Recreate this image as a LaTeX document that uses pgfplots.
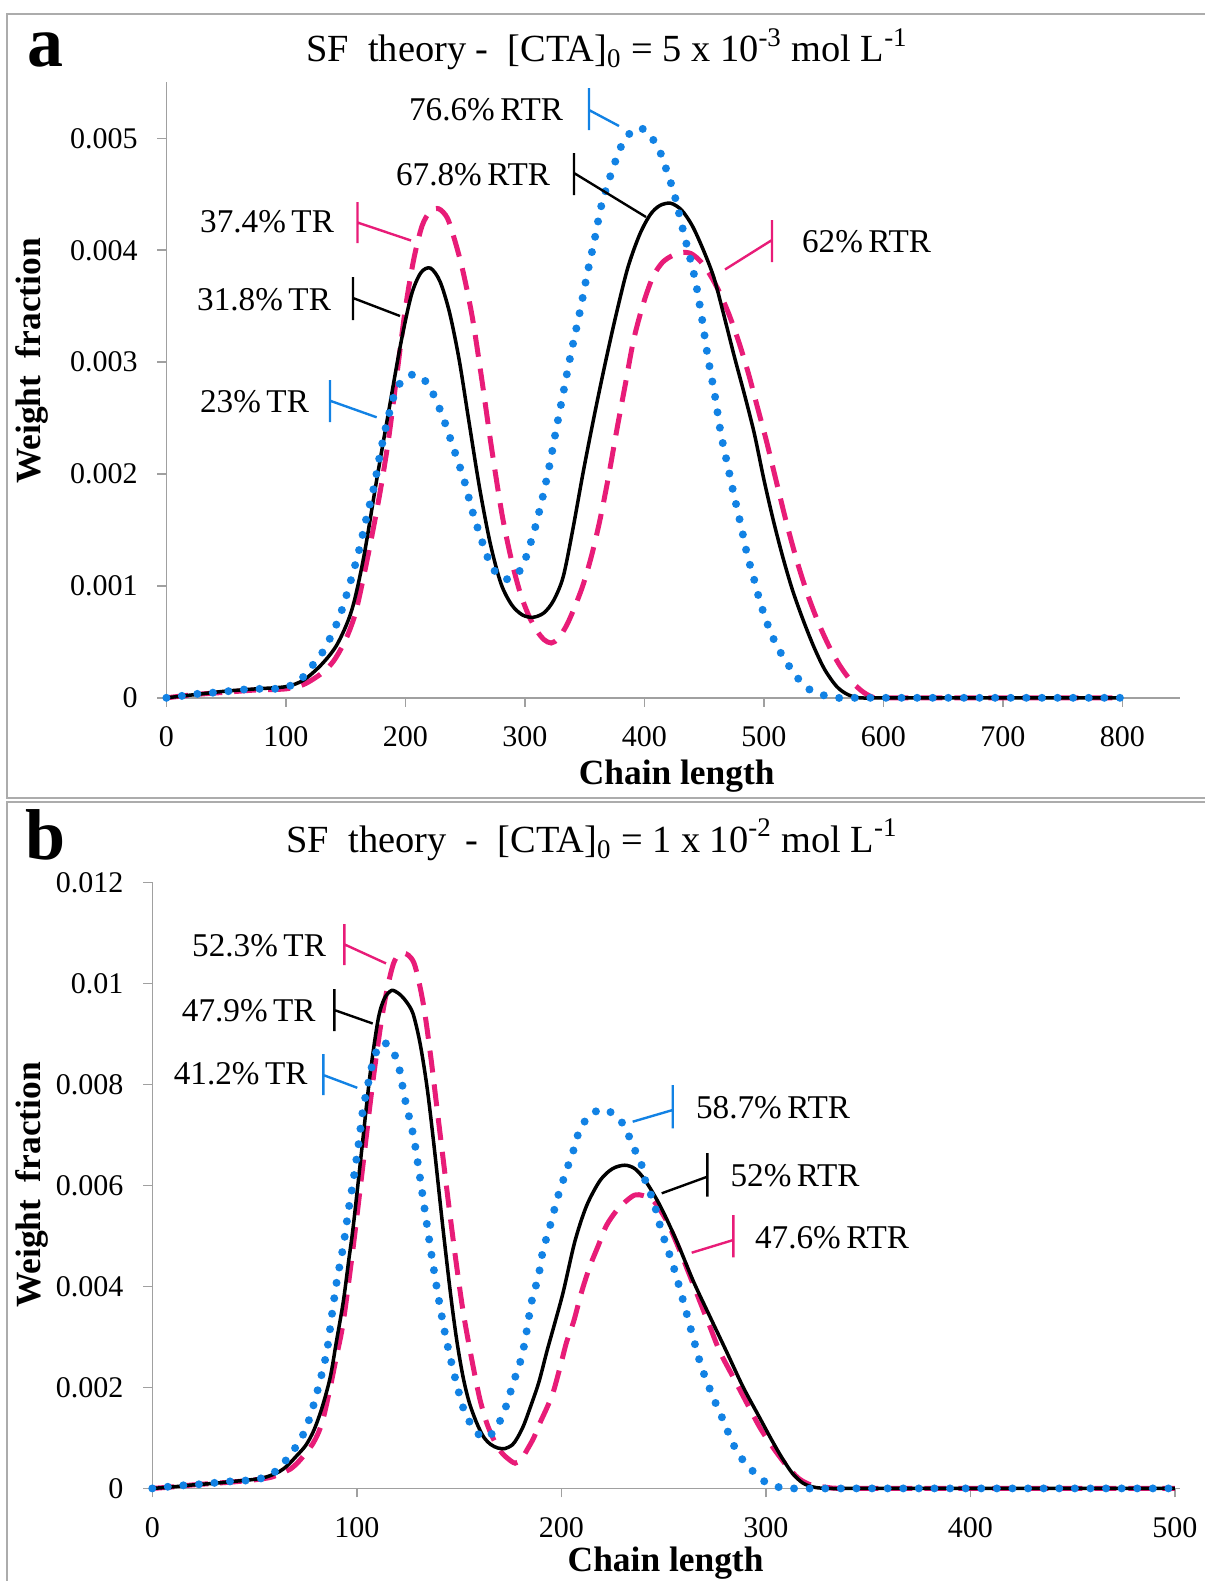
\documentclass[border=0pt]{standalone}
\usepackage{pgfplots}
\pgfplotsset{compat=1.18}
\usepackage{fontspec}
\setmainfont{Liberation Serif}

\definecolor{rtrblue}{RGB}{18,130,228}
\definecolor{rtrpink}{RGB}{232,28,120}
\definecolor{axisgray}{RGB}{160,160,160}
\definecolor{framegray}{RGB}{172,172,172}

\newcommand{\ticksize}{\fontsize{15}{18}\selectfont}
\newcommand{\titlesize}{\fontsize{19.2}{22}\selectfont}
\newcommand{\labelsize}{\fontsize{17.7}{20}\selectfont\bfseries}
\newcommand{\notesize}{\fontsize{16.6}{19}\selectfont}

\pgfplotsset{
  sfaxis/.style={
    scale only axis, clip=false,
    axis lines*=left,
    axis line style={draw=axisgray, line width=0.75pt, -},
    tick align=outside,
    major tick length=4.5pt,
    major tick style={draw=axisgray, line width=0.75pt},
    tick label style={font=\ticksize, text=black},
    xticklabel style={anchor=north, inner sep=0pt},
    yticklabel style={anchor=east, inner sep=0pt},
    xticklabel shift=9.9pt,
    yticklabel shift=9.7pt,
    scaled ticks=false,
    xmin=0, ymin=0,
  },
  pinkline/.style={rtrpink, line width=2.5pt, dash pattern=on 11pt off 6pt, smooth},
  blackline/.style={black, line width=1.75pt, smooth},
  blueline/.style={rtrblue, line width=4pt, line cap=round, dash pattern=on 0pt off 7.8pt, smooth},
}

\begin{document}
\begin{tikzpicture}
\path[use as bounding box] (0,0) rectangle (602.5pt,-790.5pt);

% ---------- panel a: [CTA]0 = 5e-3 mol/L ----------
\begin{axis}[sfaxis,
  at={(83.2pt,-348.9pt)}, anchor=south west,
  width=506.7pt, height=307.7pt,
  xmax=848, ymax=0.0055,
  xtick={0,100,200,300,400,500,600,700,800},
  xticklabels={0,100,200,300,400,500,600,700,800},
  ytick={0,0.001,0.002,0.003,0.004,0.005},
  yticklabels={0,0.001,0.002,0.003,0.004,0.005},
]
\addplot[pinkline] table {
0 0
25 0.00003
50 0.00005
75 0.00007
100 0.00008
115 0.00012
130 0.00022
140 0.00033
150 0.00052
158 0.00075
165 0.00108
172 0.00145
179 0.00185
186 0.00232
193 0.0029
200 0.00348
207 0.00392
214 0.00422
221 0.00435
228 0.00437
235 0.00429
241 0.0041
248 0.00382
256 0.0034
264 0.00284
272 0.00224
281 0.00163
289 0.00122
296 0.00094
303 0.00074
310 0.0006
316 0.00052
322 0.00049
328 0.00053
335 0.00065
342 0.00082
349 0.00102
356 0.00128
363 0.0016
370 0.00198
377 0.0024
384 0.0028
391 0.0032
399 0.00352
407 0.00376
415 0.00389
423 0.00395
431 0.00398
439 0.00397
447 0.0039
455 0.00378
463 0.00362
471 0.00342
479 0.00318
487 0.0029
494 0.00262
502 0.0023
510 0.00195
519 0.00156
528 0.00121
537 0.00091
546 0.00066
555 0.00045
564 0.00028
573 0.00015
582 0.00006
590 0.00001
598 0
650 0
700 0
750 0
800 0
};
\addplot[blackline] table {
0 0
25 0.00003
50 0.00006
75 0.00008
100 0.0001
115 0.00016
130 0.0003
143 0.00048
155 0.00078
165 0.00125
176 0.00195
186 0.00256
196 0.00316
205 0.0036
213 0.0038
221 0.00384
229 0.00372
237 0.00344
245 0.00302
253 0.00248
262 0.00188
271 0.00138
280 0.00102
289 0.00083
298 0.00074
307 0.00072
316 0.00076
324 0.00087
332 0.00108
340 0.0015
349 0.00203
358 0.00252
367 0.00298
376 0.00341
386 0.00384
396 0.00414
405 0.00432
413 0.0044
422 0.00442
431 0.00436
440 0.00422
449 0.00401
458 0.00376
466 0.00344
475 0.00306
484 0.0027
492 0.00236
500 0.00195
508 0.00158
516 0.00125
524 0.00096
533 0.00069
542 0.00045
551 0.00025
561 0.0001
570 0.00003
580 0
600 0
650 0
700 0
750 0
800 0
};
\addplot[blueline] table {
0 0
15 0.00002
30 0.00004
45 0.00005
60 0.00007
75 0.00008
90 0.00008
102 0.0001
113 0.00017
123 0.0003
132 0.00043
144 0.0007
153 0.001
161 0.00131
167 0.00159
174 0.0019
179 0.00219
185 0.00248
192 0.00275
200 0.00286
208 0.00289
216 0.00284
224 0.0027
232 0.00249
240 0.00224
249 0.00195
256 0.00167
265 0.00137
271 0.0012
278 0.00109
285 0.00106
292 0.00109
299 0.0012
308 0.0015
315 0.0018
321 0.0021
326 0.00239
332 0.00272
338 0.00305
346 0.00345
352 0.00378
358 0.00408
364 0.0044
372 0.00468
381 0.00494
390 0.00507
397 0.00509
404 0.00504
413 0.00488
419 0.0047
425 0.0045
433 0.00415
442 0.00376
448 0.0034
453 0.00305
459 0.0027
464 0.00236
470 0.00206
475 0.00181
481 0.00153
486 0.00128
492 0.00105
497 0.00085
504 0.00063
511 0.00046
520 0.0003
528 0.00018
535 0.0001
542 0.00005
551 0.00002
560 0
580 0
600 0
650 0
700 0
750 0
800 0
};
\end{axis}

% ---------- panel b: [CTA]0 = 1e-2 mol/L ----------
\begin{axis}[sfaxis,
  at={(76.15pt,-744.2pt)}, anchor=south west,
  width=513.9pt, height=303pt,
  xmax=502.6, ymax=0.012,
  xtick={0,100,200,300,400,500},
  xticklabels={0,100,200,300,400,500},
  ytick={0,0.002,0.004,0.006,0.008,0.01,0.012},
  yticklabels={0,0.002,0.004,0.006,0.008,0.01,0.012},
]
\addplot[pinkline] table {
0 0
10 0.00003
20 0.00007
30 0.0001
40 0.00013
50 0.00017
58 0.00022
63 0.0003
67.4 0.00038
72 0.00055
78.7 0.0009
83 0.0013
87 0.002
90 0.0026
93.4 0.0033
98.3 0.0048
103 0.0064
108 0.0081
113 0.0095
118 0.0104
122.8 0.0106
128 0.0104
132.5 0.0096
136 0.0086
139 0.0076
142 0.0066
145 0.0056
148.5 0.0045
152 0.0035
156 0.0026
160 0.0018
163.5 0.0013
166.8 0.00098
170 0.00075
173.3 0.00061
177.4 0.0005
180.5 0.00058
183.5 0.00078
186.5 0.001
189.6 0.0013
193 0.0016
196 0.0019
199.4 0.0024
202.6 0.0029
206 0.0033
210 0.0039
214 0.0044
218 0.0048
222 0.0052
227 0.0055
232 0.0057
236 0.00581
240 0.0058
245 0.0057
251.5 0.0053
257 0.0048
262 0.0043
267.8 0.0037
272.7 0.0032
277.6 0.0027
284.1 0.0022
290.6 0.0017
297.2 0.0012
303.7 0.0008
310.2 0.00045
316 0.0002
322 0.00007
330 0.00002
340 0
400 0
450 0
500 0
};
\addplot[blackline] table {
0 0
10 0.00003
20 0.00007
30 0.0001
40 0.00014
50 0.00018
56 0.00023
62 0.00033
66 0.00045
70 0.00062
75 0.00085
79 0.00115
83 0.0016
87 0.0022
90 0.0029
93.4 0.0037
96 0.0045
98.3 0.0052
102.4 0.0067
106.5 0.0082
110.5 0.0093
113.5 0.0097
117 0.00986
120.5 0.0098
124 0.00965
127.5 0.0094
131 0.0088
134.5 0.0079
138 0.0067
142 0.0052
146 0.0038
149 0.0029
152 0.0022
155 0.0017
158.6 0.0013
162 0.00102
165.5 0.00087
169 0.0008
172.5 0.00079
176 0.00086
178.5 0.001
181.5 0.00124
184.7 0.00159
189 0.0021
193 0.00272
197 0.0033
201 0.0039
206.7 0.0049
212.4 0.0056
219 0.0061
225 0.00633
231 0.0064
236 0.00633
241 0.0061
248.3 0.0056
256.4 0.0049
264.6 0.0041
272.7 0.0034
280.9 0.0027
289 0.002
297 0.0014
303 0.00095
308 0.0006
313 0.0003
318 0.00011
323 0.00003
330 0
350 0
400 0
450 0
500 0
};
\addplot[blueline] table {
0 0
9.4 0.00004
17.8 0.00007
26.2 0.00009
34.6 0.00013
43 0.00015
51.5 0.00018
59 0.0003
64.6 0.00052
70 0.00081
73 0.001
77 0.0014
81.2 0.002
85.3 0.0027
87.7 0.0034
90.2 0.0041
93.4 0.0048
95.9 0.0055
98.3 0.0061
100.8 0.0068
103 0.0075
105 0.0079
107 0.0083
110 0.0087
112 0.00882
115 0.0088
117 0.0087
120.3 0.0084
123.6 0.0077
127.6 0.007
130 0.0064
134 0.0053
137.4 0.0044
140.7 0.0036
144 0.0029
148 0.0022
152 0.0016
155.4 0.0013
160 0.00105
163 0.001
166.8 0.00112
171.7 0.00148
176.6 0.0021
180.6 0.0026
183 0.0031
185.5 0.0037
188.8 0.0042
191 0.0047
194.5 0.0052
198.5 0.0058
203.4 0.0064
206 0.0067
209 0.0071
214 0.0074
218 0.00748
222 0.0075
228.7 0.0073
232.8 0.007
236 0.0067
239.3 0.0064
241.7 0.006
245 0.0057
249 0.0051
254.8 0.0044
259.7 0.0037
263.7 0.0031
268.6 0.0024
274.3 0.0018
277.6 0.0015
281.7 0.0011
285 0.0008
289 0.00055
294.7 0.0003
300 0.00012
306 0.00003
312 0
350 0
400 0
450 0
500 0
};
\end{axis}

% ---------- frames, titles, axis labels and callouts (1 unit = 0.5pt) ----------
\begin{scope}[x=0.5pt, y=-0.5pt]
  \draw[framegray, line width=0.75pt] (1205,14) -- (7,14) -- (7,798) -- (1205,798);
  \draw[framegray, line width=0.75pt] (1205,802) -- (7,802) -- (7,1581);

  \node[anchor=base, font=\fontsize{36}{40}\selectfont\bfseries] at (45.4,66) {a};
  \node[anchor=base, font=\fontsize{36}{40}\selectfont\bfseries] at (45.4,859) {b};

  \node[anchor=base, font=\titlesize] at (607,61.7)
    {SF\ \ theory -\ \ [CTA]\textsubscript{0} = 5 x 10\textsuperscript{-3} mol L\textsuperscript{-1}};
  \node[anchor=base, font=\titlesize] at (592,852)
    {SF\ \ theory\ \ -\ \ [CTA]\textsubscript{0} = 1 x 10\textsuperscript{-2} mol L\textsuperscript{-1}};

  \node[rotate=90, font=\labelsize] at (32.3,361) {Weight\ \ fraction};
  \node[rotate=90, font=\labelsize] at (32.3,1185) {Weight\ \ fraction};
  \node[font=\labelsize] at (676.7,776.5) {Chain\ length};
  \node[font=\labelsize] at (665.6,1563) {Chain\ length};

  % panel a callouts
  \node[anchor=base east, font=\notesize] at (570,120) {76.6\%\,RTR};
  \draw[rtrblue, line width=1.2pt] (589,88) -- (589,130) (589,110) -- (619,126);
  \node[anchor=base east, font=\notesize] at (557,185) {67.8\%\,RTR};
  \draw[black, line width=1.2pt] (574,153) -- (574,195) (574,173) -- (646,217);
  \node[anchor=base east, font=\notesize] at (341,232) {37.4\%\,TR};
  \draw[rtrpink, line width=1.2pt] (357.5,202) -- (357.5,243) (357.5,222.5) -- (411,240.5);
  \node[anchor=base east, font=\notesize] at (338,310) {31.8\%\,TR};
  \draw[black, line width=1.2pt] (353,277) -- (353,320) (353,298) -- (400,316);
  \node[anchor=base east, font=\notesize] at (316,412) {23\%\,TR};
  \draw[rtrblue, line width=1.2pt] (330,380) -- (330,422) (330,400.7) -- (376.7,417.3);
  \node[anchor=base west, font=\notesize] at (795,252) {62\%\,RTR};
  \draw[rtrpink, line width=1.2pt] (772,220) -- (772,262) (772,240) -- (725,269.5);

  % panel b callouts
  \node[anchor=base east, font=\notesize] at (333,956.5) {52.3\%\,TR};
  \draw[rtrpink, line width=1.2pt] (344.3,924) -- (344.3,965) (344.3,944.3) -- (386,963.4);
  \node[anchor=base east, font=\notesize] at (322.7,1021.6) {47.9\%\,TR};
  \draw[black, line width=1.2pt] (334.3,989) -- (334.3,1031) (334.3,1010) -- (372.7,1023.5);
  \node[anchor=base east, font=\notesize] at (314.6,1084.7) {41.2\%\,TR};
  \draw[rtrblue, line width=1.2pt] (323.3,1054) -- (323.3,1095) (323.3,1075) -- (357.3,1087.8);
  \node[anchor=base west, font=\notesize] at (689,1118.3) {58.7\%\,RTR};
  \draw[rtrblue, line width=1.2pt] (672.7,1085) -- (672.7,1128.3) (672.7,1110) -- (632.7,1121.7);
  \node[anchor=base west, font=\notesize] at (723.5,1186) {52\%\,RTR};
  \draw[black, line width=1.2pt] (707.3,1153) -- (707.3,1196.7) (707.3,1176.7) -- (661.7,1193.3);
  \node[anchor=base west, font=\notesize] at (748,1248.3) {47.6\%\,RTR};
  \draw[rtrpink, line width=1.2pt] (733.3,1215) -- (733.3,1257.3) (733.3,1240) -- (691.7,1252.7);
\end{scope}
\end{tikzpicture}
\end{document}
